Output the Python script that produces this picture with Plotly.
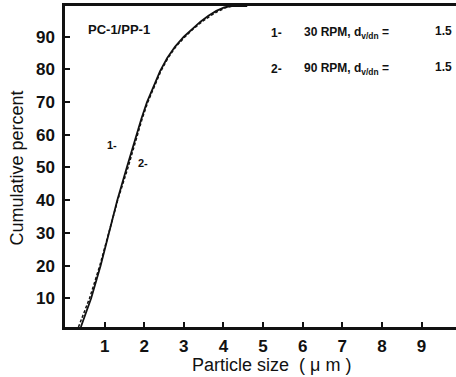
import plotly.graph_objects as go

# Curve 1: 30 RPM (solid)
size1 = [0.40, 0.66, 0.90, 1.11, 1.32, 1.56, 1.80, 1.93, 2.07, 2.22, 2.40, 2.58, 2.78, 3.00, 3.20, 3.42, 3.62, 3.82, 4.02, 4.20, 4.60]
cum1 = [1.2, 10, 20, 30, 40, 50, 60, 65, 70, 74.5, 79.5, 83.5, 87, 90, 92.3, 94.6, 96.4, 97.9, 99.0, 99.4, 99.4]
# Curve 2: 90 RPM (dashed)
size2 = [0.34, 0.62, 0.88, 1.10, 1.33, 1.59, 1.83, 1.95, 2.09, 2.24, 2.42, 2.60, 2.80, 3.03, 3.23, 3.46, 3.67, 3.88, 4.08, 4.26, 4.60]
cum2 = [1.2, 10, 20, 30, 40, 50, 60, 65, 70, 74.5, 79.5, 83.5, 87, 90, 92.3, 94.6, 96.4, 97.9, 99.0, 99.4, 99.4]

x_ticks = [1, 2, 3, 4, 5, 6, 7, 8, 9]
y_ticks = [10, 20, 30, 40, 50, 60, 70, 80, 90]

FONT = "Liberation Sans, Arial, Helvetica, sans-serif"
INK = "#111111"

fig = go.Figure()
fig.add_trace(go.Scatter(x=size1, y=cum1, mode="lines", line=dict(color=INK, width=1.8), showlegend=False))
fig.add_trace(go.Scatter(x=size2, y=cum2, mode="lines", line=dict(color=INK, width=1.5, dash="3px,2px"), showlegend=False))

fig.update_layout(
    width=456, height=377,
    margin=dict(l=65, r=0, t=6, b=50),
    paper_bgcolor="white", plot_bgcolor="white",
    font=dict(family=FONT, color=INK),
    xaxis=dict(range=[0, 9.87], tickvals=x_ticks, ticks="inside", ticklen=5, tickwidth=1.5, tickcolor=INK,
               showline=True, linecolor=INK, linewidth=2.5, mirror=True, showgrid=False, zeroline=False,
               tickfont=dict(size=17, color=INK, weight="bold"), ticklabelstandoff=2),
    yaxis=dict(range=[1.2, 99.4], tickvals=y_ticks, ticks="inside", ticklen=5, tickwidth=1.5, tickcolor=INK,
               showline=True, linecolor=INK, linewidth=2.5, showgrid=False, zeroline=False,
               tickfont=dict(size=17, color=INK, weight="bold"), ticklabelstandoff=4),
)

B = dict(color=INK, weight="bold")
anns = [
    dict(x=271.5, y=365, text="Particle size  ( \u03bc m )", font=dict(size=18, color=INK)),
    dict(x=16, y=168.5, text="Cumulative percent", font=dict(size=18, color=INK), textangle=-90),
    dict(x=119, y=29, text="PC-1/PP-1", font=dict(size=13, **B)),
    dict(x=276, y=33, text="1-", font=dict(size=12, **B)),
    dict(x=302, y=33, text="30 RPM, d<sub>v/d</sub><sub>n</sub> =", font=dict(size=12, **B), xanchor="left"),
    dict(x=433, y=31, text="1.5", font=dict(size=12, **B), xanchor="left"),
    dict(x=276, y=69, text="2-", font=dict(size=12, **B)),
    dict(x=302, y=69, text="90 RPM, d<sub>v/d</sub><sub>n</sub> =", font=dict(size=12, **B), xanchor="left"),
    dict(x=433, y=67, text="1.5", font=dict(size=12, **B), xanchor="left"),
    dict(x=112, y=145, text="1-", font=dict(size=11, **B)),
    dict(x=143, y=163, text="2-", font=dict(size=11, **B)),
]
# convert pixel placements to paper coordinates of the plot area
L, R, T, Bm, W, H = 65, 0, 6, 50, 456, 377
pw, ph = W - L - R, H - T - Bm
for a in anns:
    px, py = a.pop("x"), a.pop("y")
    a["x"] = (px - L) / pw
    a["y"] = (H - Bm - py) / ph
    a["xref"] = "paper"
    a["yref"] = "paper"
    a.setdefault("xanchor", "center")
    a["yanchor"] = "middle"
    a["showarrow"] = False
    fig.add_annotation(**a)

fig.write_html("out.html")
